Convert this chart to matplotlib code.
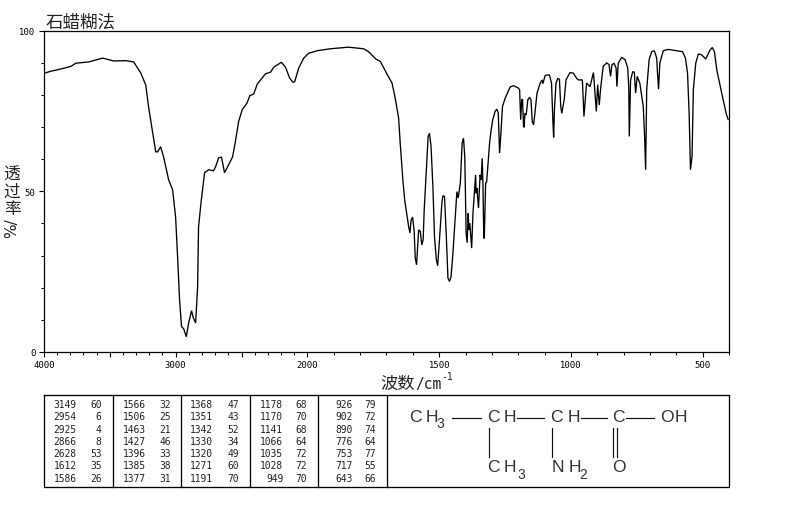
import matplotlib
matplotlib.use("Agg")
import matplotlib.pyplot as plt
import numpy as np

plt.rcParams['font.family'] = ['Noto Sans CJK SC', 'DejaVu Sans']

wavenumber = [
 3995,3947,3871,3795,3758,3659,3553,3470,3379,3318,3265,3227,3205,3174,3151,3136,3114,3091,3053,3023,
 3000,2985,2970,2955,2939,2919,2901,2879,2866,2848,2833,2826,2805,2780,2750,2712,2697,2674,2652,2629,
 2606,2568,2548,2522,2495,2458,2437,2407,2381,2318,2280,2255,2197,2167,2134,2108,2096,2066,2028,1995,
 1963,1913,1844,1787,1768,1742,1723,1698,1679,1667,1654,1648,1638,1631,1616,1611,1607,1601,1595,1591,
 1586,1578,1572,1566,1561,1557,1549,1542,1537,1531,1524,1518,1511,1506,1499,1490,1486,1480,1473,1467,
 1461,1455,1448,1439,1433,1428,1420,1413,1408,1403,1398,1394,1390,1388,1384,1377,1372,1362,1360,1357,
 1351,1345,1341,1337,1334,1331,1329,1324,1320,1309,1304,1297,1288,1281,1276,1271,1266,1260,1250,1231,
 1218,1199,1195,1191,1187,1184,1180,1178,1175,1170,1164,1157,1152,1147,1142,1137,1129,1117,1110,1107,
 1098,1082,1074,1069,1066,1063,1057,1050,1044,1039,1035,1026,1019,1004,991,979,972,957,951,941,
 928,915,904,899,893,887,878,865,856,850,845,837,829,826,821,808,795,785,781,779,
 774,766,760,755,749,739,726,721,717,713,704,694,684,675,672,668,663,650,631,600,
 577,566,558,552,547,541,536,527,517,504,489,473,464,456,447,423,410,404]
transmittance = [
 86.8,87.4,88.1,88.9,89.9,90.3,91.5,90.6,90.7,90.3,86.9,83.2,76.3,68.2,62.3,62.3,63.9,60.7,53.6,50.5,
 42.0,29.6,16.2,7.8,7.2,4.7,9.0,12.8,10.6,9.0,20.2,38.9,47.3,55.8,56.7,56.4,57.6,60.4,60.7,55.8,
 57.6,60.7,65.1,71.7,75.4,77.5,79.8,80.3,83.4,86.6,87.1,88.7,90.2,88.7,85.2,83.9,84.2,88.4,91.5,93.0,
 93.8,94.4,94.9,94.4,93.5,91.3,90.4,86.5,83.7,79.0,72.8,65.0,53.6,47.3,39.0,37.0,40.9,42.0,37.5,29.2,
 27.1,38.0,37.5,33.3,34.9,44.2,56.7,67.1,68.1,64.0,51.5,35.9,28.7,26.8,34.9,46.3,48.6,48.4,35.9,23.0,
 21.9,23.5,30.7,42.1,49.9,47.9,52.5,65.0,66.6,60.8,37.0,34.0,43.2,38.0,40.1,32.3,43.2,55.1,49.4,51.0,
 44.8,55.1,53.6,60.3,51.5,35.4,35.4,52.5,53.0,65.0,68.6,72.3,74.9,75.6,74.3,61.9,68.1,76.4,79.0,82.5,
 82.9,82.1,81.6,72.3,78.5,78.7,70.0,70.0,74.3,73.8,78.5,79.3,78.5,71.7,70.7,74.3,80.6,83.7,84.7,83.5,
 86.1,86.3,83.7,72.3,66.8,75.4,83.7,85.2,84.9,76.4,74.3,78.5,84.7,87.0,86.8,85.2,84.7,84.7,73.3,83.7,
 82.6,87.0,74.9,83.2,76.9,82.6,88.9,90.0,89.5,85.8,89.4,89.9,88.4,82.6,89.9,91.7,91.0,88.4,82.6,67.1,
 84.7,87.3,87.1,80.6,85.8,83.7,76.4,67.1,56.7,81.6,90.9,93.5,93.8,91.5,86.8,81.8,90.0,93.8,94.2,93.8,
 93.5,91.5,86.8,74.3,56.7,60.8,81.6,89.9,92.8,92.5,91.2,94.0,94.8,93.5,87.8,78.5,73.8,72.4]

major_ticks = [4000,3500,3000,2500,2000,1500,1000,500]
major_labels = ['4000','','3000','','2000','1500','1000','500']
y_major = [0,50,100]

peak_wave = [
 ['3149','2954','2925','2866','2628','1612','1586'],
 ['1566','1506','1463','1427','1396','1385','1377'],
 ['1368','1351','1342','1330','1320','1271','1191'],
 ['1178','1170','1141','1066','1035','1028','949'],
 ['926','902','890','776','753','717','643']]
peak_t = [
 ['60','6','4','8','53','35','26'],
 ['32','25','21','46','33','38','31'],
 ['47','43','52','34','49','60','70'],
 ['68','70','68','64','72','72','70'],
 ['79','72','74','64','77','55','66']]

W, H = 794, 510
fig = plt.figure(figsize=(W/100, H/100), dpi=100, facecolor='white')
ax = fig.add_axes([43.8/W, 1-352.8/H, 685.4/W, 321/H])

def fwd(w):
    w = np.asarray(w, float)
    return np.where(w >= 2000, 2000+(w-2000)/2, w)
def inv(u):
    u = np.asarray(u, float)
    return np.where(u >= 2000, 2000+(u-2000)*2, u)
ax.set_xscale('function', functions=(fwd, inv))
ax.plot(wavenumber, transmittance, color='black', lw=0.95, solid_joinstyle='miter')
ax.set_xlim(4000, 400)
ax.set_ylim(0, 100)
ax.set_xticks(major_ticks)
ax.set_xticklabels(major_labels, family='DejaVu Sans Mono', fontsize=6.4)
ax.set_xticks(np.arange(400, 4001, 100), minor=True)
ax.set_yticks(y_major)
ax.set_yticklabels([str(v) for v in y_major], family='DejaVu Sans Mono', fontsize=6.4)
ax.set_yticks(np.arange(0, 101, 10), minor=True)
ax.tick_params(which='major', length=3.6, width=0.8, pad=2.5)
ax.tick_params(which='minor', length=2.2, width=0.7)
for s in ax.spines.values():
    s.set_linewidth(0.9)

ov = fig.add_axes([0, 0, 1, 1], facecolor='none')
ov.set_xlim(-0.5, W-0.5); ov.set_ylim(H-0.5, -0.5); ov.axis('off')

cjk = ['Noto Sans CJK SC', 'DejaVu Sans']
ink = '#222222'
ov.text(45, 22, '石蜡糊法', fontsize=12.6, family=cjk, va='center', ha='left', color=ink)
for ch, y in zip('透过率', [175, 192, 209]):
    ov.text(11.5, y, ch, fontsize=12, family=cjk, va='center', ha='center', color=ink)
ov.text(11.5, 228, '%/', fontsize=11, family='DejaVu Sans', rotation=90, va='center', ha='center', color=ink)
ov.text(380, 383.5, '波数', fontsize=12.4, family=cjk, va='center', ha='left', color=ink)
ov.text(415, 384, '/cm', fontsize=10.5, family='DejaVu Sans Mono', va='center', ha='left', color=ink)
ov.text(441, 377, '-1', fontsize=7, family='DejaVu Sans Mono', va='center', ha='left', color=ink)

# table frame
lw = 0.95
ov.plot([43.3, 728.7, 728.7, 43.3, 43.3], [395, 395, 487, 487, 395], color='k', lw=lw)
for x in [112.7, 180.3, 249.3, 317.3, 386.7]:
    ov.plot([x, x], [395, 487], color='k', lw=lw)
rows = [405, 417, 429.3, 441.7, 453.7, 466, 479]
wx = [76, 145, 212.7, 282.7, 352]
tx = [101, 170, 238.3, 306, 375]
for c in range(5):
    for r, y in enumerate(rows):
        ov.text(wx[c], y, peak_wave[c][r], family='DejaVu Sans Mono', fontsize=6.9, ha='right', va='center', color=ink)
        ov.text(tx[c], y, peak_t[c][r], family='DejaVu Sans Mono', fontsize=6.9, ha='right', va='center', color=ink)

# structure
sf = dict(family='Liberation Sans', fontsize=12.6, va='center', ha='center', color='#333333')
def atoms(chars, xs, y):
    for ch, x in zip(chars, xs):
        ov.text(x, y, ch, **sf)
sub = dict(family='Liberation Sans', fontsize=10, va='center', ha='center', color='#333333')
atoms('CH', [414.5, 431], 417)
ov.text(440, 424, '3', **sub)
atoms('CH', [493, 509], 417)
atoms('CH', [556, 573], 417)
atoms('C', [618], 417)
atoms('OH', [666, 680], 417)
atoms('CH', [493, 509], 467)
ov.text(521, 475, '3', **sub)
atoms('NH', [557, 574], 467)
ov.text(583, 475, '2', **sub)
atoms('O', [618], 467)
bonds = [([451, 480], [418.3, 418.3]), ([516, 543.3], [418.3, 418.3]),
         ([580, 606], [418.3, 418.3]), ([625, 653.5], [418.3, 418.3]),
         ([488.3, 488.3], [428, 457]), ([551, 551], [428, 457]),
         ([612.3, 612.3], [428, 457]), ([616, 616], [428, 457])]
for bx, by in bonds:
    ov.plot(bx, by, color='#111111', lw=0.85)

fig.savefig('out.png', dpi=100, facecolor='white')
